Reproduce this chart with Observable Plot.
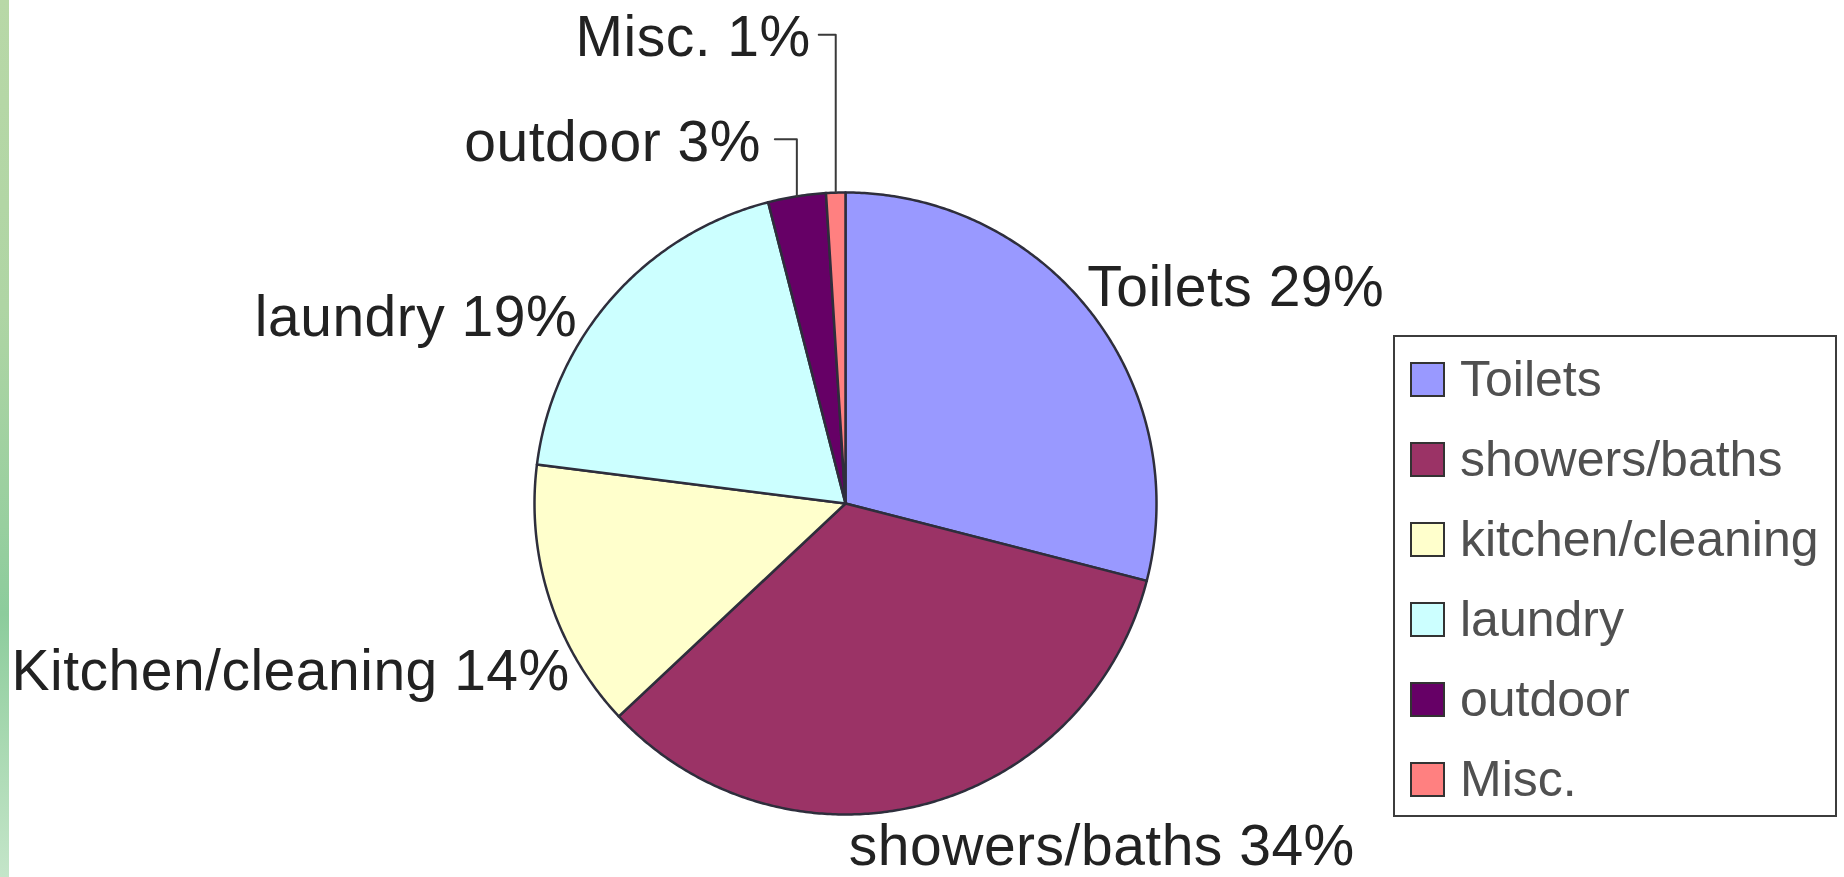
<!DOCTYPE html>
<html>
<head>
<meta charset="utf-8">
<script src="https://cdn.jsdelivr.net/npm/d3@7"></script>
<script src="https://cdn.jsdelivr.net/npm/@observablehq/plot@0.6"></script>
<style>
  html, body { margin: 0; padding: 0; background: #ffffff; }
  #wrap { position: relative; width: 1844px; height: 877px; overflow: hidden; background: #fff; }
  #strip { position: absolute; left: 0; top: 0; width: 9px; height: 877px;
    background: linear-gradient(to bottom, #b8d8a7 0%, #afd5a4 35%, #98cf9f 60%, #8ccc9c 70%, #a9d9b2 85%, #c4e5c9 100%); }
  #chart { position: absolute; left: 0; top: 0; }
  #legend { position: absolute; left: 1393px; top: 335px; width: 444px; height: 482px; box-sizing: border-box;
    border: 2px solid #3c3c3c; padding-top: 2px; background: #fff; }
  .row { height: 80px; display: flex; align-items: center; padding-left: 15px; }
  .sw { width: 35px; height: 35px; box-sizing: border-box; border: 2px solid #333; margin-right: 15px; flex: none; }
  .lt { font-family: "Liberation Sans", Arial, sans-serif; font-size: 50px; color: #505050; line-height: 1; }
</style>
</head>
<body>
<div id="wrap">
  <div id="chart"></div>
  <div id="strip"></div>
  <div id="legend"></div>
</div>
<script>
// ---- data ----
const categories = ["Toilets", "showers/baths", "kitchen/cleaning", "laundry", "outdoor", "Misc."];
const labelNames = ["Toilets", "showers/baths", "Kitchen/cleaning", "laundry", "outdoor", "Misc."];
const values = [29, 34, 14, 19, 3, 1];
const colors = ["#9999ff", "#9b3366", "#ffffcc", "#ccffff", "#660066", "#ff8080"];

// ---- layout (pixels) ----
const W = 1844, H = 877;
const CX = 845, CY = 503, R = 311;
// label placement: pixel offsets from the slice's mid-angle point on the rim
const placement = {
  "Toilets":          {anchor: "start", dx: -4,  dy: -25},
  "showers/baths":    {anchor: "start", dx: -74, dy: 42},
  "kitchen/cleaning": {anchor: "end",   dx: 20,  dy: 72},
  "laundry":          {anchor: "end",   dx: -35, dy: 20},
  "outdoor":          {anchor: "end",   dx: -36, dy: -54, leader: 22},
  "Misc.":            {anchor: "end",   dx: -25, dy: -155, leader: 17}
};

const pie = d3.pie().sort(null).value(d => d.value).startAngle(0).endAngle(2 * Math.PI);
const rows = categories.map((c, i) => ({name: c, label: labelNames[i], value: values[i]}));
const arcs = pie(rows);

// slice polygons in unit coordinates (y up)
const slicePts = [];
for (const a of arcs) {
  const n = Math.max(2, Math.ceil((a.endAngle - a.startAngle) / (Math.PI / 360)));
  slicePts.push({name: a.data.name, x: 0, y: 0});
  for (let k = 0; k <= n; k++) {
    const t = a.startAngle + (a.endAngle - a.startAngle) * k / n;
    slicePts.push({name: a.data.name, x: Math.sin(t), y: Math.cos(t)});
  }
}

const labels = [];
const leaders = [];
for (const a of arcs) {
  const mid = (a.startAngle + a.endAngle) / 2;
  const ex = Math.sin(mid), ey = Math.cos(mid);
  const p = placement[a.data.name];
  const lx = ex + p.dx / R, ly = ey - p.dy / R;
  labels.push({name: a.data.name, anchor: p.anchor, x: lx, y: ly, text: `${a.data.label} ${a.data.value}%`});
  if (p.leader) {
    const yy = ly + 3 / R;
    leaders.push({name: a.data.name, x: ex - p.leader / R, y: yy});
    leaders.push({name: a.data.name, x: ex, y: yy});
    leaders.push({name: a.data.name, x: ex, y: ey});
  }
}

const font = {fontFamily: "'Liberation Sans', Arial, sans-serif", fontSize: 57, fill: "#222222"};

const chart = Plot.plot({
  width: W, height: H, margin: 0,
  x: {domain: [-1, 1], range: [CX - R, CX + R], axis: null},
  y: {domain: [-1, 1], range: [CY + R, CY - R], axis: null},
  color: {domain: categories, range: colors},
  style: {background: "transparent", overflow: "visible"},
  marks: [
    Plot.line(slicePts, {x: "x", y: "y", z: "name", fill: "name", stroke: "#2e2e3c", strokeWidth: 2.5,
      curve: "linear-closed", strokeLinejoin: "round"}),
    Plot.line(leaders, {x: "x", y: "y", z: "name", stroke: "#3a3a3a", strokeWidth: 2}),
    Plot.text(labels.filter(d => d.anchor === "start"), {x: "x", y: "y", text: "text", textAnchor: "start", ...font}),
    Plot.text(labels.filter(d => d.anchor === "end"), {x: "x", y: "y", text: "text", textAnchor: "end", ...font})
  ]
});
chart.querySelectorAll("text").forEach(t => t.style.letterSpacing = "0.5px");
document.getElementById("chart").appendChild(chart);

// legend
const lg = d3.select("#legend");
categories.forEach((c, i) => {
  const r = lg.append("div").attr("class", "row");
  r.append("div").attr("class", "sw").style("background", colors[i]);
  r.append("div").attr("class", "lt").text(c);
});
</script>
</body>
</html>
